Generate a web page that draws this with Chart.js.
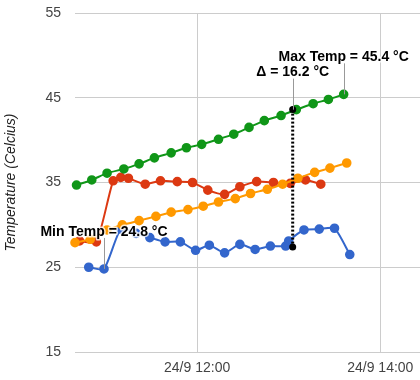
<!DOCTYPE html>
<html>
<head>
<meta charset="utf-8">
<script src="https://cdn.jsdelivr.net/npm/chart.js@4"></script>
<style>
html,body{margin:0;padding:0;background:#fff;}
#wrap{width:420px;height:380px;}
</style>
</head>
<body>
<div id="wrap"><canvas id="c" width="420" height="380"></canvas></div>
<script>
// Time values are minutes since midnight on 24/9
const blueTimes   = [649,659,670,680,689,699,709,719,728,738,748,758,768,778,780,790,800,810,820];
const blueTemps   = [25.0,24.8,29.5,29.0,28.5,28.0,28.0,27.0,27.6,26.7,27.7,27.1,27.5,27.5,28.1,29.4,29.5,29.6,26.5];
const redTimes    = [643,654,665,670,675,686,696,707,717,727,738,748,759,770,781,791,801];
const redTemps    = [28.1,28.0,35.2,35.6,35.5,34.8,35.2,35.1,35.0,34.1,33.6,34.5,35.1,35.0,34.9,35.3,34.8];
const orangeTimes = [640,650,661,671,682,693,703,714,724,734,745,755,766,776,786,797,807,818];
const orangeTemps = [27.9,28.3,29.4,30.0,30.5,31.0,31.5,31.8,32.2,32.7,33.1,33.7,34.2,34.8,35.5,36.2,36.7,37.3];
const greenTimes  = [641,651,661,672,682,692,703,713,723,734,744,754,764,775,785,796,806,816];
const greenTemps  = [34.7,35.3,36.1,36.6,37.2,37.9,38.5,39.1,39.5,40.1,40.7,41.5,42.3,42.9,43.6,44.3,44.8,45.4];

const xTicks = [720, 840];
const yTicks = [15, 25, 35, 45, 55];
const xMin = 640, xMax = 866;

const annTexts = ['Min Temp = 24.8 °C', 'Max Temp = 45.4 °C', 'Δ = 16.2 °C'];
const annTimes = [659, 816, 782.6];
const annTemps = [24.8, 45.4, 43.6];
const deltaTime = 782.6;
const deltaTop = 43.6;
const deltaBottom = 27.4;

function pts(ts, vs){ return ts.map((t,i)=>({x:t, y:vs[i]})); }
function fmt(m){ const h=Math.floor(m/60), mm=m%60; return '24/9 ' + h + ':' + (mm<10?'0':'') + mm; }

const FONT = '"Liberation Sans", Arial, sans-serif';

// let the plot area reach the canvas edge (no extra room reserved for point overflow)
try {
  const LC = Chart.registry.getController('line');
  if (LC) LC.prototype.getMaxOverflow = function(){ return 0; };
} catch(e) {}

const annPlugin = {
  id: 'ann',
  afterDatasetsDraw(chart){
    const ctx = chart.ctx, xs = chart.scales.x, ys = chart.scales.y;
    ctx.save();
    const dx = xs.getPixelForValue(deltaTime);
    const dyt = ys.getPixelForValue(deltaTop), dyb = ys.getPixelForValue(deltaBottom);
    ctx.strokeStyle = '#000'; ctx.lineWidth = 3; ctx.setLineDash([2,2]);
    ctx.beginPath(); ctx.moveTo(dx, dyt); ctx.lineTo(dx, dyb); ctx.stroke();
    ctx.setLineDash([]);
    ctx.fillStyle = '#000';
    [dyt, dyb].forEach(y=>{ ctx.beginPath(); ctx.arc(dx, y, 3.5, 0, Math.PI*2); ctx.fill(); });
    ctx.font = 'bold 14px ' + FONT;
    ctx.textAlign = 'center'; ctx.textBaseline = 'middle';
    annTexts.forEach((t,i)=>{
      const px = xs.getPixelForValue(annTimes[i]);
      const py = ys.getPixelForValue(annTemps[i]);
      const ty = py - 37;
      ctx.strokeStyle = '#999'; ctx.lineWidth = 1;
      ctx.beginPath(); ctx.moveTo(Math.round(px)+0.5, py); ctx.lineTo(Math.round(px)+0.5, ty + 6); ctx.stroke();
      ctx.lineWidth = 3; ctx.strokeStyle = 'rgba(255,255,255,0.8)'; ctx.lineJoin='round';
      ctx.strokeText(t, px, ty);
      ctx.fillStyle = '#000';
      ctx.fillText(t, px, ty);
    });
    ctx.restore();
  }
};

function ds(data, color, order){
  return { data, borderColor: color, backgroundColor: color, pointBackgroundColor: color,
    pointBorderColor: color, pointRadius: 3.8, pointHoverRadius: 3.8, borderWidth: 2,
    tension: 0.2, fill: false, order, clip: 10 };
}

new Chart(document.getElementById('c'), {
  type: 'line',
  data: { datasets: [
    ds(pts(greenTimes, greenTemps), '#109618', 0),
    ds(pts(orangeTimes, orangeTemps), '#ff9900', 1),
    ds(pts(redTimes, redTemps), '#dc3912', 2),
    ds(pts(blueTimes, blueTemps), '#3366cc', 3)
  ]},
  options: {
    responsive: false, animation: false, parsing: true,
    layout: { padding: { top: 13, right: 0, left: 0, bottom: 0 } },
    plugins: { legend: { display: false }, tooltip: { enabled: false } },
    scales: {
      x: {
        type: 'linear', min: xMin, max: xMax,
        afterBuildTicks: s => { s.ticks = xTicks.map(v=>({value:v})); },
        afterFit: s => { s.height = 28; s.paddingLeft = 0; s.paddingRight = 0; },
        grid: { color: '#cccccc', drawTicks: false, lineWidth: 1 },
        border: { display: false },
        ticks: { callback: v => fmt(v), color: '#444', font: { family: FONT, size: 14 }, padding: 8, maxRotation: 0, autoSkip: false }
      },
      y: {
        min: 15, max: 55,
        afterBuildTicks: s => { s.ticks = yTicks.map(v=>({value:v})); },
        afterFit: s => { s.width = 75; s.paddingTop = 0; s.paddingBottom = 0; },
        grid: { color: '#cccccc', drawTicks: false, lineWidth: 1 },
        border: { display: false },
        ticks: { color: '#444', font: { family: FONT, size: 14 }, padding: 14 },
        title: { display: true, text: 'Temperature (Celcius)', color: '#222',
          font: { family: FONT, size: 14, style: 'italic' }, padding: { top: 3, bottom: 0 } }
      }
    }
  },
  plugins: [annPlugin]
});
</script>
</body>
</html>
